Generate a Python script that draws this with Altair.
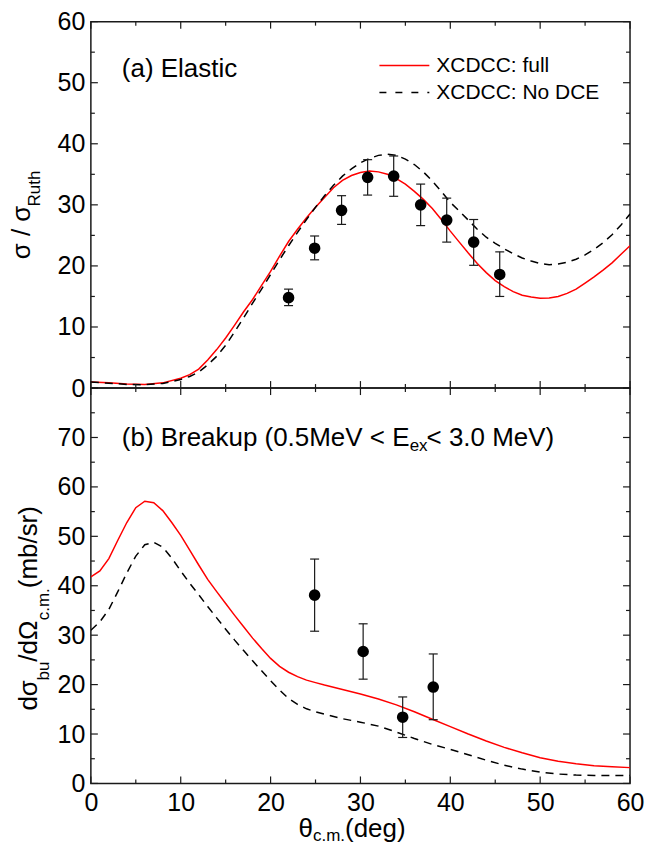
import altair as alt
import pandas as pd

FONT = "Liberation Sans"
AX = "#1a1a1a"

# ---------------- data ----------------
# (a) Elastic: sigma / sigma_Ruth
el_theta = [0, 2, 4, 6, 8] + list(range(10, 61))
el_full = [1.0, 0.85, 0.65, 0.6, 0.85,
           1.6, 2.2, 3.1, 4.6, 6.3, 8.2, 10.3, 12.5, 14.5, 16.8,
           19.1, 21.6, 24.0, 26.0, 27.9, 29.6, 31.2, 32.8, 34.0, 34.8,
           35.3, 35.55, 35.4, 35.0, 34.3, 33.4, 32.2, 30.9, 29.4, 27.6,
           25.7, 23.9, 22.1, 20.4, 18.9, 17.6, 16.6, 15.8, 15.2, 14.9,
           14.7, 14.75, 15.0, 15.5, 16.2, 17.2, 18.2, 19.3, 20.5, 21.9, 23.3]
el_nodce = [1.0, 0.8, 0.6, 0.55, 0.75,
            1.4, 1.9, 2.6, 3.8, 5.2, 7.0, 9.2, 11.5, 13.9, 16.2,
            18.6, 21.0, 23.3, 25.5, 27.6, 29.6, 31.5, 33.2, 34.7, 35.9,
            36.9, 37.6, 38.1, 38.3, 38.1, 37.5, 36.6, 35.4, 33.9, 32.2,
            30.4, 29.0, 27.5, 26.0, 24.7, 23.7, 22.8, 22.0, 21.3, 20.8,
            20.4, 20.2, 20.3, 20.6, 21.1, 21.8, 22.7, 23.8, 25.1, 26.7, 28.5]
el_exp_theta = [22.0, 24.9, 27.9, 30.8, 33.7, 36.7, 39.6, 42.6, 45.5]
el_exp_val = [14.8, 22.9, 29.1, 34.5, 34.7, 30.0, 27.5, 23.9, 18.6]
el_exp_hi = [16.2, 24.9, 31.5, 37.4, 38.0, 33.4, 31.1, 27.6, 22.3]
el_exp_lo = [13.5, 21.0, 26.8, 31.6, 31.4, 26.6, 23.9, 20.1, 15.0]

# (b) Breakup: d sigma_bu / d Omega (mb/sr)
bu_theta = list(range(0, 27)) + list(range(28, 61, 2))
bu_full = [41.8, 43.0, 45.5, 49.2, 52.8, 55.8, 57.1, 56.8, 55.2, 52.8,
           50.2, 47.2, 44.2, 41.3, 38.8, 36.4, 34.0, 31.7, 29.4, 27.3,
           25.3, 23.7, 22.5, 21.6, 20.9, 20.4, 19.9,
           19.0, 18.1, 17.1, 15.9, 14.5, 13.0, 11.5, 10.0, 8.6, 7.3,
           6.2, 5.2, 4.5, 4.0, 3.6, 3.4, 3.2]
bu_nodce = [31.0, 32.7, 35.2, 38.8, 42.6, 46.0, 48.3, 48.8, 47.8, 45.6,
            43.0, 40.5, 38.2, 35.8, 33.5, 31.2, 29.0, 26.9, 24.8, 22.8,
            20.8, 18.9, 17.2, 16.0, 15.1, 14.5, 14.0,
            13.1, 12.4, 11.6, 10.4, 9.1, 7.9, 6.9, 5.8, 4.7, 3.7,
            2.9, 2.3, 1.9, 1.7, 1.6, 1.6, 1.6]
bu_exp_theta = [24.9, 30.3, 34.7, 38.1]
bu_exp_val = [38.1, 26.7, 13.4, 19.5]
bu_exp_hi = [45.4, 32.3, 17.5, 26.2]
bu_exp_lo = [30.8, 21.1, 9.3, 12.9]

x_major = [0, 10, 20, 30, 40, 50, 60]
x_minor = [5, 15, 25, 35, 45, 55]
top_y_major = [0, 10, 20, 30, 40, 50, 60]
top_y_minor = [5, 15, 25, 35, 45, 55]
bot_y_major = [0, 10, 20, 30, 40, 50, 60, 70, 80]
bot_y_minor = [5, 15, 25, 35, 45, 55, 65, 75]
top_y_labels = [0, 10, 20, 30, 40, 50, 60]
bot_y_labels = [0, 10, 20, 30, 40, 50, 60, 70]
x_labels = [0, 10, 20, 30, 40, 50, 60]

legend_labels = ["XCDCC: full", "XCDCC: No DCE"]

# ---------------- layout ----------------
W = 540
H1 = 367
H2 = 396
MAJ = 7
MIN = 4
LABEL_SIZE = 25

XS = alt.Scale(domain=[0, 60], nice=False, zero=False)
YS_TOP = alt.Scale(domain=[0, 60], nice=False, zero=False)
YS_BOT = alt.Scale(domain=[0, 80], nice=False, zero=False)

ARIAL = {' ': 278, '(': 333, ')': 333, '.': 278, '/': 278, '<': 584,
         'a': 556, 'b': 556, 'c': 500, 'd': 556, 'e': 556, 'g': 556,
         'h': 556, 'i': 222, 'k': 500, 'l': 222, 'm': 833, 'p': 556,
         'r': 333, 's': 500, 't': 278, 'u': 556, 'x': 500,
         'B': 667, 'E': 667, 'M': 833, 'V': 667, 'R': 722,
         'σ': 600, 'θ': 556, 'Ω': 760}


def tw(s, size):
    return sum(ARIAL.get(c, 556) for c in s) / 1000.0 * size


DUMMY = pd.DataFrame({"d": [0]})


def text(txt, x, y, size, angle=0, align="left", baseline="alphabetic"):
    return alt.Chart(DUMMY).mark_text(
        text=txt, font=FONT, fontSize=size, align=align, baseline=baseline,
        angle=angle, color="black"
    ).encode(x=alt.value(x), y=alt.value(y))


def axis_y(values):
    return alt.Axis(values=values, title=None, ticks=False, tickSize=0,
                    domain=False, grid=False, labelFont=FONT,
                    labelFontSize=LABEL_SIZE, labelColor="black",
                    labelPadding=6, labelFlush=False, labelOverlap=False)


def axis_x(values):
    return alt.Axis(values=values, title=None, ticks=False, tickSize=0,
                    domain=False, grid=False, labelFont=FONT,
                    labelFontSize=LABEL_SIZE, labelColor="black",
                    labelPadding=7, labelFlush=False, labelOverlap=False)


def panel(curves, exp, ys, xaxis, yaxis, y_major, y_minor, H, extra):
    def X(f):
        return alt.X(f, type="quantitative", scale=XS, axis=xaxis)

    def Y(f):
        return alt.Y(f, type="quantitative", scale=ys, axis=yaxis)

    layers = []
    for th, vals, color, dash in curves:
        df = pd.DataFrame({"theta": th, "v": vals})
        kw = dict(color=color, strokeWidth=1.5, clip=True)
        if dash:
            kw["strokeDash"] = dash
        layers.append(alt.Chart(df).mark_line(**kw).encode(x=X("theta"), y=Y("v")))

    th, val, hi, lo = exp
    edf = pd.DataFrame({"theta": th, "v": val, "hi": hi, "lo": lo})
    layers.append(alt.Chart(edf).mark_rule(color=AX, strokeWidth=1.2).encode(
        x=X("theta"), y=Y("lo"), y2=alt.Y2("hi")))
    for f in ["hi", "lo"]:
        layers.append(alt.Chart(edf).mark_tick(
            orient="horizontal", size=9, thickness=1.2, color=AX, opacity=1
        ).encode(x=X("theta"), y=Y(f)))
    layers.append(alt.Chart(edf).mark_circle(size=135, color="black", opacity=1).encode(
        x=X("theta"), y=Y("v")))

    # inward ticks on all four sides
    for vals, ln in [(x_major, MAJ), (x_minor, MIN)]:
        tdf = pd.DataFrame({"theta": vals})
        layers.append(alt.Chart(tdf).mark_rule(color=AX, strokeWidth=1.2).encode(
            x=X("theta"), y=alt.value(H - ln), y2=alt.value(H)))
        layers.append(alt.Chart(tdf).mark_rule(color=AX, strokeWidth=1.2).encode(
            x=X("theta"), y=alt.value(0), y2=alt.value(ln)))
    for vals, ln in [(y_major, MAJ), (y_minor, MIN)]:
        tdf = pd.DataFrame({"v": vals})
        layers.append(alt.Chart(tdf).mark_rule(color=AX, strokeWidth=1.2).encode(
            y=Y("v"), x=alt.value(0), x2=alt.value(ln)))
        layers.append(alt.Chart(tdf).mark_rule(color=AX, strokeWidth=1.2).encode(
            y=Y("v"), x=alt.value(W - ln), x2=alt.value(W)))

    layers.extend(extra)
    return alt.layer(*layers).properties(width=W, height=H)


def vtitle(segments, x_base, y_start):
    out = []
    y = y_start
    for txt, size, shift in segments:
        out.append(text(txt, x_base + shift, y, size, angle=270))
        y -= tw(txt, size)
    return out


def htitle(segments, x_start, y_base):
    out = []
    x = x_start
    for txt, size, shift, kern in segments:
        x += kern
        out.append(text(txt, x, y_base + shift, size))
        x += tw(txt, size)
    return out


# ---------- top panel extras ----------
top_extra = []
top_extra.append(text("(a) Elastic", 31, 55, 26))
# legend
top_extra.append(alt.Chart(DUMMY).mark_rule(color="red", strokeWidth=1.5).encode(
    x=alt.value(289), x2=alt.value(339), y=alt.value(44)))
top_extra.append(alt.Chart(DUMMY).mark_rule(color="black", strokeWidth=1.5,
                                            strokeDash=[7, 9]).encode(
    x=alt.value(289), x2=alt.value(339), y=alt.value(71)))
top_extra.append(text(legend_labels[0], 346, 44, 21, baseline="middle"))
top_extra.append(text(legend_labels[1], 346, 71, 21, baseline="middle"))
top_extra += vtitle([("σ / σ", 26, 0), ("Ruth", 17, 10)], -61, 238)

# ---------- bottom panel extras ----------
bot_extra = []
bot_extra += htitle([("(b) Breakup (0.5MeV < E", 26, 0, 0),
                     ("ex", 17, 5, 0),
                     ("< 3.0 MeV)", 26, 0, -1)], 31, 58)
bot_extra += vtitle([("dσ", 26, 0), ("bu", 17, 12), ("/dΩ", 26, 0),
                     ("c.m.", 17, 12), ("(mb/sr)", 26, 0)], -54, 323)
bot_extra += htitle([("θ", 26, 0, 0), ("c.m.", 17, 4, 0), ("(deg)", 26, 0, 0)],
                    208, H2 + 54)

top = panel(
    [(el_theta, el_full, "red", None), (el_theta, el_nodce, "black", [8, 6])],
    (el_exp_theta, el_exp_val, el_exp_hi, el_exp_lo),
    YS_TOP, None, axis_y(top_y_labels), top_y_major, top_y_minor, H1, top_extra)

bottom = panel(
    [(bu_theta, bu_full, "red", None), (bu_theta, bu_nodce, "black", [8, 6])],
    (bu_exp_theta, bu_exp_val, bu_exp_hi, bu_exp_lo),
    YS_BOT, axis_x(x_labels), axis_y(bot_y_labels), bot_y_major, bot_y_minor, H2, bot_extra)

chart = alt.vconcat(top, bottom, spacing=0, bounds="flush").properties(
    padding={"left": 0, "top": 0, "right": 0, "bottom": 0}
).configure_view(stroke=AX, strokeWidth=1.5)

chart.save("out.html", embed_options={"renderer": "svg", "actions": False})
